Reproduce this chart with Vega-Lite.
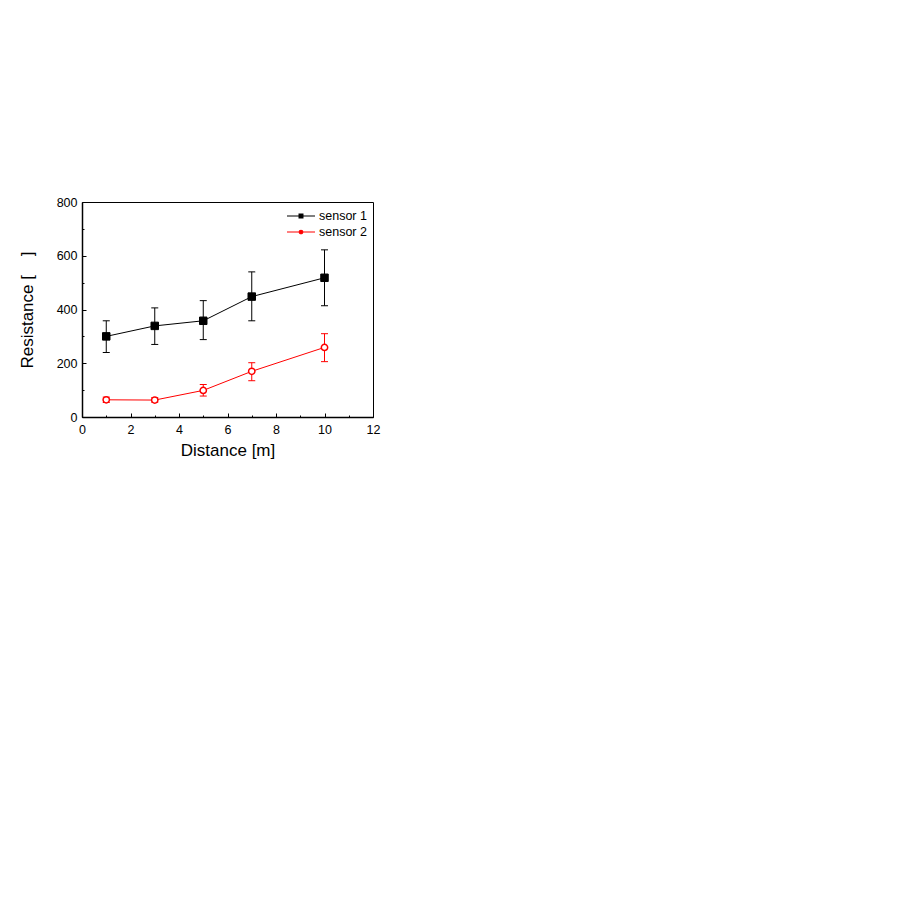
{
  "$schema": "https://vega.github.io/schema/vega-lite/v6.json",
  "width": 291,
  "height": 215,
  "autosize": "none",
  "padding": {"left": 82, "top": 202, "right": 528, "bottom": 495},
  "background": "white",
  "config": {
    "view": {"stroke": "black", "strokeWidth": 1},
    "font": "Liberation Sans",
    "axis": {
      "labelFont": "Liberation Sans",
      "titleFont": "Liberation Sans",
      "labelColor": "black",
      "titleColor": "black",
      "tickColor": "black",
      "domainColor": "black",
      "grid": false,
      "titleFontWeight": "normal"
    }
  },
  "data": {
    "values": [
      {"series": "sensor 1", "x": 1, "y": 300, "lo": 240, "hi": 358},
      {"series": "sensor 1", "x": 3, "y": 339, "lo": 270, "hi": 406},
      {"series": "sensor 1", "x": 5, "y": 358, "lo": 288, "hi": 433},
      {"series": "sensor 1", "x": 7, "y": 448, "lo": 358, "hi": 540},
      {"series": "sensor 1", "x": 10, "y": 518, "lo": 414, "hi": 622},
      {"series": "sensor 2", "x": 1, "y": 64, "lo": 54, "hi": 74},
      {"series": "sensor 2", "x": 3, "y": 63, "lo": 55, "hi": 72},
      {"series": "sensor 2", "x": 5, "y": 99, "lo": 78, "hi": 121},
      {"series": "sensor 2", "x": 7, "y": 170, "lo": 135, "hi": 202},
      {"series": "sensor 2", "x": 10, "y": 259, "lo": 206, "hi": 310}
    ]
  },
  "resolve": {"axis": {"x": "independent", "y": "independent"}},
  "layer": [
    {
      "mark": {"type": "line", "strokeWidth": 1},
      "encoding": {
        "x": {"field": "x", "type": "quantitative", "scale": {"domain": [0, 12], "nice": false},
          "axis": {"orient": "bottom", "values": [1, 3, 5, 7, 9, 11], "labels": false, "title": null, "domain": false, "tickSize": -2, "tickWidth": 1}},
        "y": {"field": "y", "type": "quantitative", "scale": {"domain": [0, 800], "nice": false},
          "axis": {"orient": "left", "values": [100, 300, 500, 700], "labels": false, "title": null, "domain": false, "tickSize": -2, "tickWidth": 1}},
        "color": {"field": "series", "type": "nominal", "scale": {"domain": ["sensor 1", "sensor 2"], "range": ["black", "#ff0000"]},
          "legend": {
            "title": null, "orient": "top-right", "offset": 6, "padding": 0, "rowPadding": 1,
            "symbolSize": 196, "symbolStrokeWidth": 1.2, "symbolOpacity": 1,
            "labelFontSize": 12.5, "labelFont": "Liberation Sans", "labelColor": "black", "labelOffset": 10
          }}
      }
    },
    {
      "mark": {"type": "errorbar", "ticks": {"size": 7, "thickness": 1, "opacity": 1}, "rule": {"strokeWidth": 1, "opacity": 1}},
      "encoding": {
        "x": {"field": "x", "type": "quantitative", "axis": null},
        "y": {"field": "lo", "type": "quantitative", "axis": null},
        "y2": {"field": "hi"},
        "color": {"field": "series", "type": "nominal"}
      }
    },
    {
      "transform": [{"filter": "datum.series === 'sensor 1'"}],
      "mark": {"type": "point", "shape": "square", "filled": true, "fill": "black", "stroke": "black", "strokeWidth": 1, "opacity": 1, "size": 56},
      "encoding": {
        "x": {"field": "x", "type": "quantitative",
          "axis": {"orient": "bottom", "values": [0, 2, 4, 6, 8, 10, 12], "title": "Distance [m]", "titleFontSize": 17, "labelFontSize": 12.5, "tickSize": -4, "tickWidth": 1, "labelPadding": 10, "titlePadding": 7, "domainWidth": 1.5, "labelFlush": false}},
        "y": {"field": "y", "type": "quantitative",
          "axis": {"orient": "left", "values": [0, 200, 400, 600, 800], "title": "Resistance [\u00a0\u00a0\u00a0\u00a0]", "titleFontSize": 17, "labelFontSize": 12.5, "tickSize": -4, "tickWidth": 1, "labelPadding": 9, "titlePadding": 20, "domainWidth": 1.5, "labelFlush": false}}
      }
    },
    {
      "transform": [{"filter": "datum.series === 'sensor 2'"}],
      "mark": {"type": "point", "shape": "circle", "filled": false, "fill": "white", "stroke": "#ff0000", "strokeWidth": 1.5, "opacity": 1, "fillOpacity": 1, "size": 40},
      "encoding": {
        "x": {"field": "x", "type": "quantitative", "axis": null},
        "y": {"field": "y", "type": "quantitative", "axis": null}
      }
    },
    {
      "mark": {"type": "point", "filled": true, "opacity": 0},
      "encoding": {
        "x": {"field": "x", "type": "quantitative", "axis": null},
        "y": {"field": "y", "type": "quantitative", "axis": null},
        "color": {"field": "series", "type": "nominal"},
        "shape": {"field": "series", "type": "nominal",
          "scale": {"domain": ["sensor 1", "sensor 2"], "range": ["M-2,0H2M-0.27,-0.27H0.27V0.27H-0.27Z", "M-2,0H-0.25M0.25,0H2M0.25,0A0.25,0.25 0 1,1 -0.25,0A0.25,0.25 0 1,1 0.25,0Z"]},
          "legend": null}
      }
    }
  ]
}
